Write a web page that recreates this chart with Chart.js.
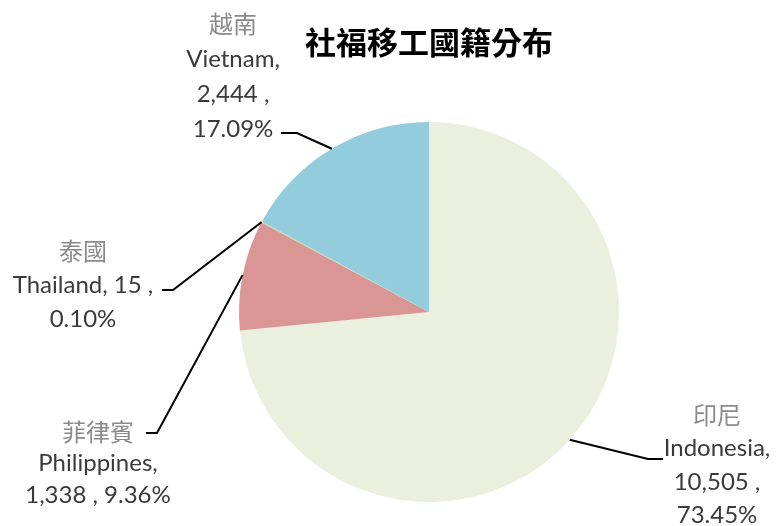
<!DOCTYPE html>
<html>
<head>
<meta charset="utf-8">
<script src="https://cdn.jsdelivr.net/npm/chart.js@4"></script>
<style>
  html, body { margin: 0; padding: 0; background: #fff; }
  #wrap { width: 777px; height: 526px; }
</style>
</head>
<body>
<div id="wrap"><canvas id="myChart" width="777" height="526"></canvas></div>
<script>
// Data
var namesZh = ['印尼', '菲律賓', '泰國', '越南'];
var namesEn = ['Indonesia', 'Philippines', 'Thailand', 'Vietnam'];
var counts = [10505, 1338, 15, 2444];
var sliceColors = ['#EBEFDE', '#D99694', '#C3D69B', '#93CDDD'];
var chartTitle = '社福移工國籍分布';

var total = counts.reduce(function (a, b) { return a + b; }, 0);
function pct(i) { return (counts[i] / total * 100).toFixed(2) + '%'; }
function num(i) { return counts[i].toLocaleString('en-US'); }

// label layout: text lines, text centre x, first line y, leader elbow and end
var labelLayout = [
    { lines: function (i) { return [namesEn[i] + ',', num(i) + ' ,', pct(i)]; },
      x: 717, y: 415, step: 33.5, elbow: [648, 459], end: [663, 459] },
    { lines: function (i) { return [namesEn[i] + ',', num(i) + ' , ' + pct(i)]; },
      x: 98, y: 432, step: 31.5, elbow: [157, 433], end: [146, 433] },
    { lines: function (i) { return [namesEn[i] + ', ' + num(i) + ' ,', pct(i)]; },
      x: 83, y: 251, step: 34, elbow: [173, 290], end: [162, 290] },
    { lines: function (i) { return [namesEn[i] + ',', num(i) + ' ,', pct(i)]; },
      x: 233, y: 24, step: 35, elbow: [297, 133], end: [281, 133] }
];

var labelPlugin = {
    id: 'pieLabels',
    afterDraw: function (chart) {
        var ctx = chart.ctx;
        var meta = chart.getDatasetMeta(0);
        ctx.save();
        // title
        ctx.fillStyle = '#000';
        ctx.font = 'bold 31px "Noto Sans CJK TC"';
        ctx.textAlign = 'center';
        ctx.textBaseline = 'middle';
        ctx.fillText(chartTitle, 429, 42);

        meta.data.forEach(function (arc, i) {
            var p = arc.getProps(['x', 'y', 'startAngle', 'endAngle', 'outerRadius'], true);
            var mid = (p.startAngle + p.endAngle) / 2;
            var ax = p.x + Math.cos(mid) * p.outerRadius;
            var ay = p.y + Math.sin(mid) * p.outerRadius;
            var L = labelLayout[i];
            ctx.strokeStyle = '#000';
            ctx.lineWidth = 2;
            ctx.beginPath();
            ctx.moveTo(ax, ay);
            ctx.lineTo(L.elbow[0], L.elbow[1]);
            ctx.lineTo(L.end[0], L.end[1]);
            ctx.stroke();

            ctx.textAlign = 'center';
            ctx.textBaseline = 'middle';
            ctx.fillStyle = '#8a8a8a';
            ctx.font = '24px "Noto Sans CJK TC"';
            ctx.fillText(namesZh[i], L.x, L.y);
            ctx.fillStyle = '#3a3a3a';
            ctx.font = '24px Lato';
            L.lines(i).forEach(function (t, k) {
                ctx.fillText(t, L.x, L.y + L.step * (k + 1));
            });
        });
        ctx.restore();
    }
};

var ctx = document.getElementById('myChart').getContext('2d');
var myChart = new Chart(ctx, {
    type: 'pie',
    data: {
        labels: namesZh,
        datasets: [{
            data: counts,
            backgroundColor: sliceColors,
            borderWidth: 0
        }]
    },
    options: {
        responsive: false,
        animation: false,
        layout: { padding: { left: 239, right: 158, top: 122, bottom: 24 } },
        plugins: {
            legend: { display: false },
            title: { display: false },
            tooltip: { enabled: false }
        }
    },
    plugins: [labelPlugin]
});
</script>
</body>
</html>
